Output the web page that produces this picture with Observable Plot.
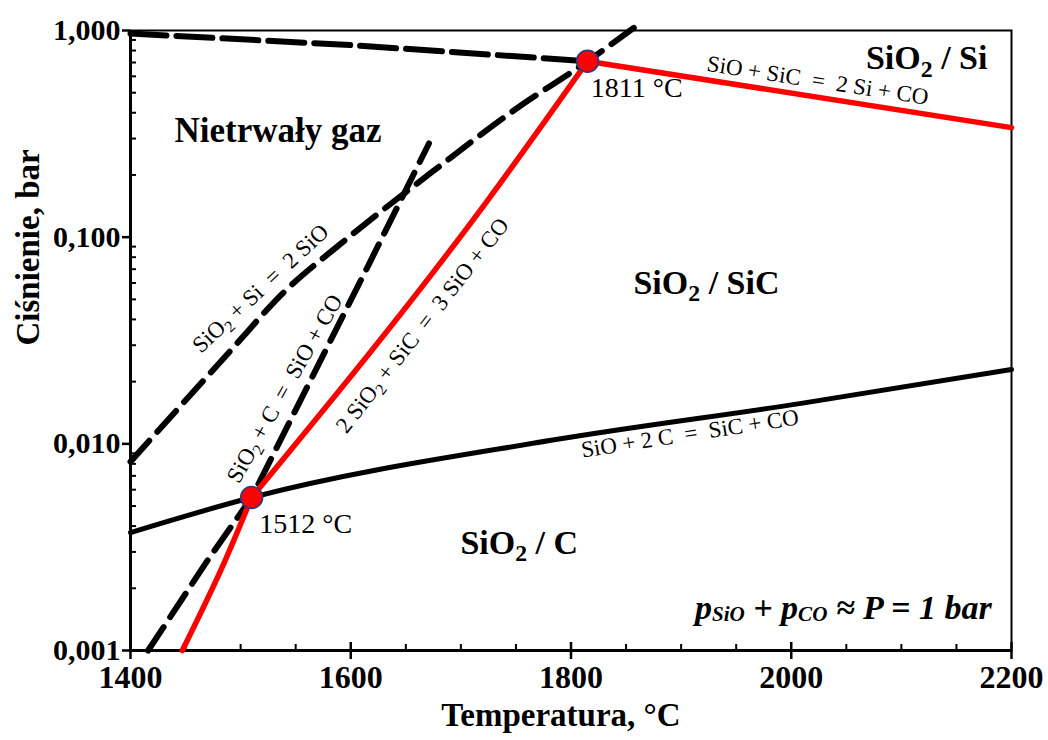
<!DOCTYPE html>
<html><head><meta charset="utf-8">
<script src="https://cdn.jsdelivr.net/npm/d3@7"></script>
<script src="https://cdn.jsdelivr.net/npm/@observablehq/plot@0.6"></script>
<style>
body{margin:0;background:#fff}
svg{display:block}
text{white-space:pre}
</style>
</head><body><div id="chart"></div>
<script>
// ---------- data (temperature °C, pressure bar) ----------
const topDashT = [1400, 1600, 1815];
const topDashP = [0.967, 0.85, 0.71];

const siSiO_T = [1400, 1491, 1539, 1591, 1679, 1748, 1815, 1857];
const siSiO_P = [0.0082, 0.0283, 0.054, 0.093, 0.217, 0.41, 0.71, 1.03];

const cSiO_T = [1416, 1470, 1510, 1615, 1671];
const cSiO_P = [0.001, 0.00273, 0.0055, 0.0713, 0.284];

const redLow_T = [1447, 1486, 1510];
const redLow_P = [0.001, 0.00273, 0.0055];
const redMid_T = [1510, 1724, 1815];
const redMid_P = [0.0055, 0.150, 0.71];
const redHigh_T = [1815, 2200];
const redHigh_P = [0.71, 0.339];

const sic_T = [1400, 1510, 1782, 2009, 2200];
const sic_P = [0.00372, 0.0055, 0.0104, 0.0157, 0.0229];

const pointT = [1510, 1815];
const pointP = [0.0055, 0.71];
const pointLabels = ["1512 °C", "1811 °C"];
const pointLabelT = [1517, 1818];

const xMajor = [1400, 1600, 1800, 2000, 2200];
const xMinor = [1450, 1500, 1550, 1650, 1700, 1750, 1850, 1900, 1950, 2050, 2100, 2150];
const yMajor = [0.001, 0.01, 0.1, 1];
const yTickLabels = ["0,001", "0,010", "0,100", "1,000"];
const yMinor = [2,3,4,5,6,7,8,9].flatMap(k => [k * 0.001, k * 0.01, k * 0.1]);

const eqTexts = ["SiO + SiC  =  2 Si + CO", "SiO + 2 C  =  SiC + CO", "SiO₂ + Si  =  2 SiO", "SiO₂ + C  =  SiO + CO", "2 SiO₂ + SiC  =  3 SiO + CO"];
const eqT = [2024, 1908, 1518, 1540, 1665];
const eqP = [0.573, 0.0112, 0.0565, 0.0185, 0.0374];
const eqAngle = [8.7, -8.7, -43, -60.6, -52];

const regionTexts = ["Nietrwały gaz", "SiO₂ / Si", "SiO₂ / SiC", "SiO₂ / C"];
const regionT = [1534, 2123, 1923, 1753];
const regionP = [0.328, 0.732, 0.0597, 0.0033];

const noteText = "p_SiO + p_CO ≈ P = 1 bar";
const xTitle = "Temperatura, °C";
const yTitle = "Ciśnienie, bar";

// ---------- helpers ----------
const rows = (T, P) => T.map((t, i) => ({T: t, P: P[i]}));
const idx = a => a.map((_, i) => i);
const serif = "Liberation Serif";

const chart = Plot.plot({
  width: 1048, height: 740,
  marginLeft: 130, marginRight: 37, marginTop: 30, marginBottom: 90,
  style: {fontFamily: "'Liberation Serif', serif", background: "#fff", color: "#000"},
  x: {domain: [1400, 2200]},
  y: {type: "log", domain: [0.001, 1]},
  marks: [
    Plot.frame({stroke: "#000", strokeWidth: 2}),
    Plot.ruleX([1400], {stroke: "#000", strokeWidth: 3}),
    Plot.ruleY([0.001], {stroke: "#000", strokeWidth: 3}),
    // x axis
    Plot.axisX({ticks: xMajor, tickSize: 9, tickPadding: 6, strokeWidth: 2.5, tickFormat: d => String(d), fontSize: 32, fontWeight: "bold", fontFamily: serif, label: null}),
    Plot.axisX({ticks: xMajor, tickSize: -8, strokeWidth: 2.5, fill: "none", label: null}),
    Plot.axisX({ticks: xMinor, tickSize: -6, strokeWidth: 2, fill: "none", label: null}),
    // y axis
    Plot.axisY({ticks: yMajor, tickSize: 8, tickPadding: 2, strokeWidth: 2.5, tickFormat: d => yTickLabels[yMajor.indexOf(d)], fontSize: 30, fontWeight: "bold", fontFamily: serif, label: null}),
    Plot.axisY({ticks: yMinor, tickSize: -6, strokeWidth: 2, fill: "none", label: null}),
    // lines
    Plot.line(rows(topDashT, topDashP), {x: "T", y: "P", stroke: "#000", strokeWidth: 6, strokeDasharray: "36,10"}),
    Plot.line(rows(siSiO_T, siSiO_P), {x: "T", y: "P", stroke: "#000", strokeWidth: 6, strokeDasharray: "28,12", curve: "monotone-x"}),
    Plot.line(rows(cSiO_T, cSiO_P), {x: "T", y: "P", stroke: "#000", strokeWidth: 6, strokeDasharray: "28,12"}),
    Plot.line(rows(sic_T, sic_P), {x: "T", y: "P", stroke: "#000", strokeWidth: 5, curve: "monotone-x"}),
    Plot.line(rows(redLow_T, redLow_P), {x: "T", y: "P", stroke: "#ff0000", strokeWidth: 5.5, curve: "monotone-x"}),
    Plot.line(rows(redMid_T, redMid_P), {x: "T", y: "P", stroke: "#ff0000", strokeWidth: 5.5, curve: "monotone-x"}),
    Plot.line(rows(redHigh_T, redHigh_P), {x: "T", y: "P", stroke: "#ff0000", strokeWidth: 5.5}),
    Plot.dot(idx(pointT), {x: i => pointT[i], y: i => pointP[i], r: 11, fill: "#ff0000", stroke: "#1f3d8c", strokeWidth: 1.5}),
    // point labels
    Plot.text(idx(pointT), {x: i => pointLabelT[i], y: i => pointP[i], text: i => pointLabels[i], textAnchor: "start", dy: 27, fontSize: 28, fontFamily: serif}),
    // equations
    Plot.text(idx(eqTexts), {x: i => eqT[i], y: i => eqP[i], text: i => eqTexts[i], rotate: i => eqAngle[i], fontSize: 23, fontFamily: serif}),
    // region labels
    Plot.text(idx(regionTexts), {x: i => regionT[i], y: i => regionP[i], text: i => regionTexts[i], fontSize: i => i === 0 ? 35 : 34, fontWeight: "bold", fontFamily: serif}),
    // note
    Plot.text([noteText], {x: 2182, y: 0.00161, text: d => d, textAnchor: "end", fontSize: 34, fontWeight: "bold", fontStyle: "italic", fontFamily: serif}),
    // axis titles
    Plot.text([xTitle], {frameAnchor: "bottom", text: d => d, dy: 75, dx: -10, fontSize: 33, fontWeight: "bold", fontFamily: serif}),
    Plot.text([yTitle], {frameAnchor: "left", text: d => d, rotate: -90, dx: -102, dy: 5, fontSize: 33, fontWeight: "bold", fontFamily: serif})
  ]
});

// subscripts as real text tspans
d3.select(chart).selectAll("text").each(function () {
  const t = this.textContent;
  if (!/[₂_]/.test(t)) return;
  const parts = t.split(/(₂|_[A-Za-z]+)/).filter(s => s !== "");
  const sel = d3.select(this);
  sel.text(null);
  let shifted = 0;
  parts.forEach(p => {
    if (p === "₂") {
      sel.append("tspan").attr("font-size", "70%").attr("dy", "0.3em").text("2");
      shifted = 0.21;
    } else if (p.startsWith("_")) {
      sel.append("tspan").attr("font-size", "62%").attr("dy", "0.12em").text(p.slice(1));
      shifted = 0.0744;
    } else {
      const ts = sel.append("tspan").text(p);
      if (shifted) { ts.attr("dy", (-shifted) + "em"); shifted = 0; }
    }
  });
});

document.getElementById("chart").appendChild(chart);
</script>
</body></html>
